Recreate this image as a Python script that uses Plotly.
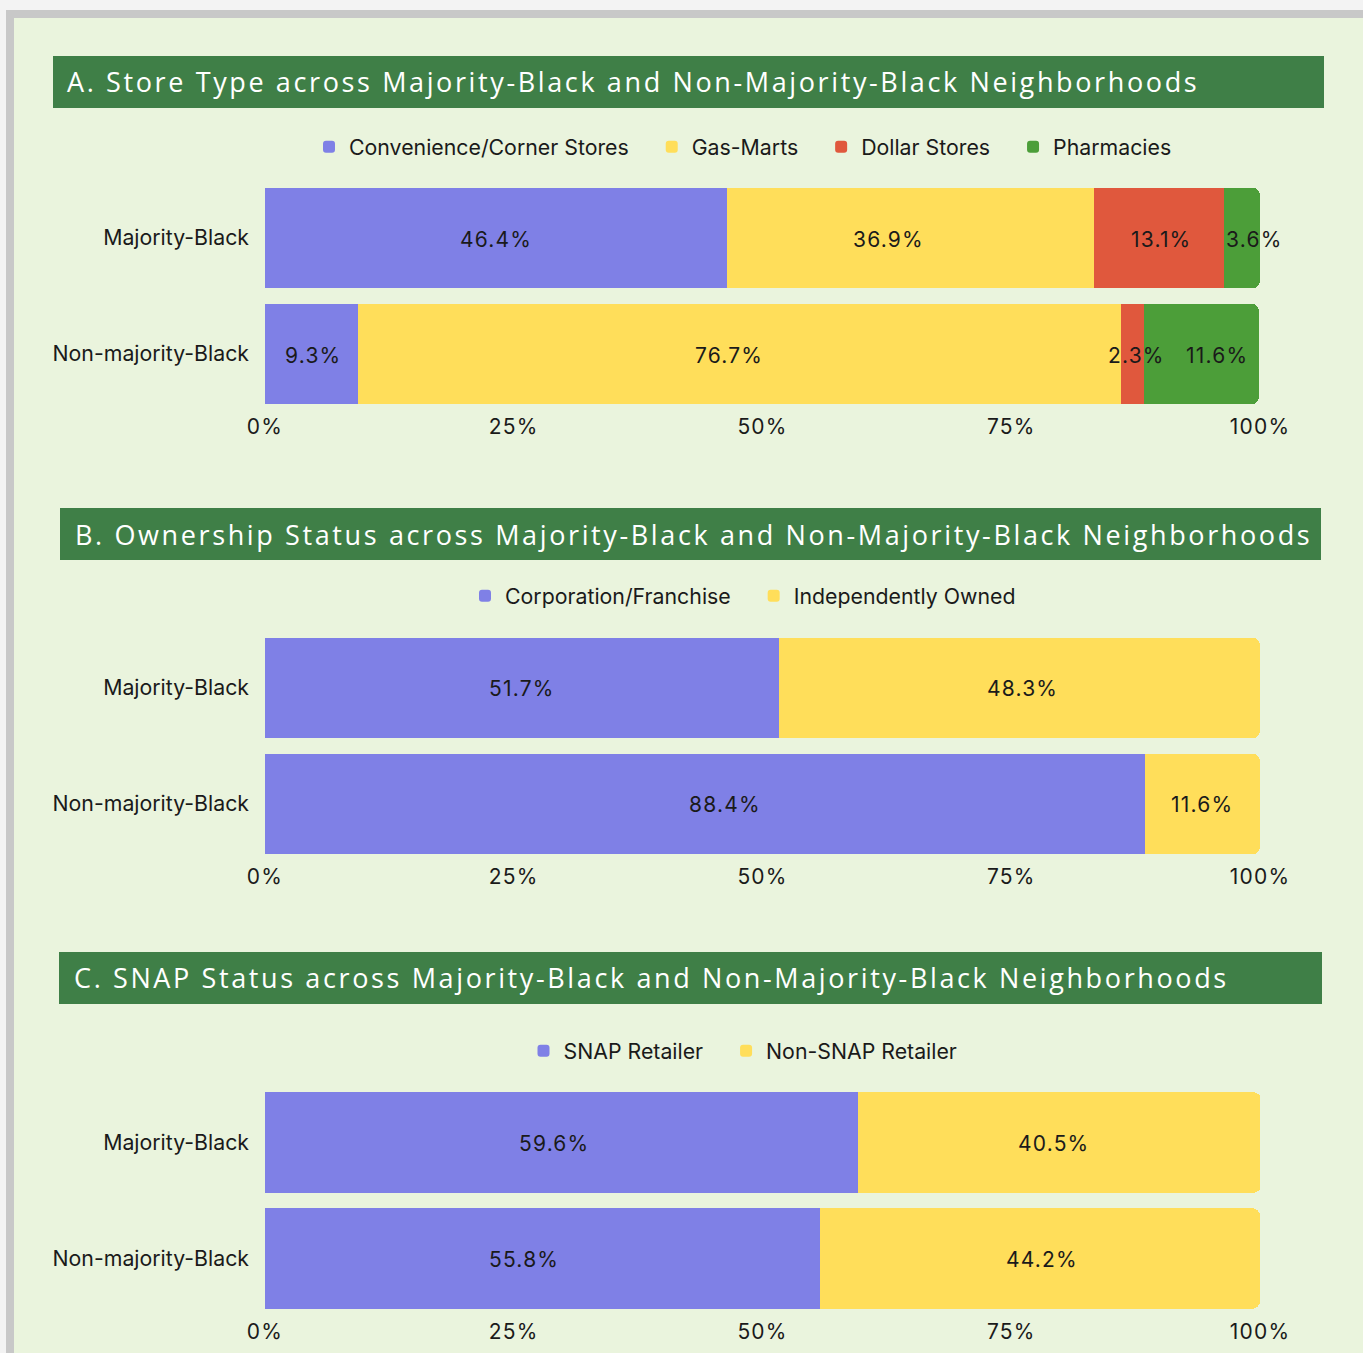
import plotly.graph_objects as go

W, H = 1363, 1353

neighborhoods = ["Majority-Black", "Non-majority-Black"]

# Panel A: store type
a_title = "A. Store Type across Majority-Black and Non-Majority-Black Neighborhoods"
a_series = ["Convenience/Corner Stores", "Gas-Marts", "Dollar Stores", "Pharmacies"]
a_conv = [46.4, 9.3]
a_gas = [36.9, 76.7]
a_dollar = [13.1, 2.3]
a_pharm = [3.6, 11.6]

# Panel B: ownership
b_title = "B. Ownership Status across Majority-Black and Non-Majority-Black Neighborhoods"
b_series = ["Corporation/Franchise", "Independently Owned"]
b_corp = [51.7, 88.4]
b_indep = [48.3, 11.6]

# Panel C: SNAP
c_title = "C. SNAP Status across Majority-Black and Non-Majority-Black Neighborhoods"
c_series = ["SNAP Retailer", "Non-SNAP Retailer"]
c_snap = [59.6, 55.8]
c_nonsnap = [40.5, 44.2]

tick_vals = [0, 25, 50, 75, 100]
tick_text = ["0%", "25%", "50%", "75%", "100%"]

PURPLE = "#7F80E6"
YELLOW = "#FFDE5A"
RED = "#E0583D"
GREEN = "#4C9E39"
TITLE_GREEN = "#3F7F47"
PANEL_BG = "#EAF4DD"
TXT = "#1a1a1a"
FONT = "Inter, Liberation Sans, Arial, sans-serif"
TITLE_FONT = "Open Sans, Noto Sans, sans-serif"
GAP = "\u00a0\u00a0\u00a0"  # extra spacing between legend entries


def py(px):
    return 1 - px / H


def pxx(px):
    return px / W


def spaced(text, ls):
    return f'<span style="letter-spacing:{ls}px">{text}</span>'


panels = [
    dict(title=a_title, names=a_series, values=[a_conv, a_gas, a_dollar, a_pharm],
         colors=[PURPLE, YELLOW, RED, GREEN], bar=(53, 1324, 56, 108), text_x=65,
         plot=(180, 412), legend_y=147,
         shifts=[[0, -22, 2, 12], [2, -10, 4, 16]]),
    dict(title=b_title, names=b_series, values=[b_corp, b_indep],
         colors=[PURPLE, YELLOW], bar=(60, 1321, 508, 560), text_x=73,
         plot=(630, 862), legend_y=596,
         shifts=[[0, 3], [20, 0]]),
    dict(title=c_title, names=c_series, values=[c_snap, c_nonsnap],
         colors=[PURPLE, YELLOW], bar=(59, 1322, 952, 1004), text_x=72,
         plot=(1084.5, 1316.5), legend_y=1051,
         shifts=[[-8, -6], [-19, 2]]),
]

fig = go.Figure()
shapes = []
annotations = []

# outer grey border and inner panel
shapes.append(dict(type="rect", xref="paper", yref="paper", x0=pxx(6), x1=1,
                   y0=0, y1=py(10), fillcolor="#C8C8C8", line=dict(width=0), layer="below"))
shapes.append(dict(type="rect", xref="paper", yref="paper", x0=pxx(14), x1=1,
                   y0=0, y1=py(18), fillcolor=PANEL_BG, line=dict(width=0), layer="below"))

legend_names = ["legend", "legend2", "legend3"]
layout_extra = {}

for i, p in enumerate(panels):
    ax = "" if i == 0 else str(i + 1)
    lg = legend_names[i]
    n = len(p["names"])
    for k, (name, vals, col) in enumerate(zip(p["names"], p["values"], p["colors"])):
        label = name + (GAP if k < n - 1 else "")
        fig.add_trace(go.Bar(
            y=neighborhoods, x=vals, name=label, orientation="h",
            marker=dict(color=col, line=dict(width=0)),
            xaxis="x" + ax, yaxis="y" + ax, legend=lg,
            hoverinfo="skip",
        ))
    # value labels in segments
    for r, cat in enumerate(neighborhoods):
        cum = 0
        for k, vals in enumerate(p["values"]):
            v = vals[r]
            annotations.append(dict(
                x=cum + v / 2, y=cat, xref="x" + ax, yref="y" + ax,
                xshift=p["shifts"][r][k], yshift=-1,
                text=spaced(f"{v}%", 1.2), showarrow=False,
                font=dict(family=FONT, size=21, color=TXT),
            ))
            cum += v
    # title bar
    x0, x1, y0, y1 = p["bar"]
    shapes.append(dict(type="rect", xref="paper", yref="paper", x0=pxx(x0), x1=pxx(x1),
                       y0=py(y1), y1=py(y0), fillcolor=TITLE_GREEN, line=dict(width=0),
                       layer="below"))
    annotations.append(dict(
        x=pxx(p["text_x"]), y=py((y0 + y1) / 2), xref="paper", yref="paper",
        xanchor="left", yanchor="middle", text=spaced(p["title"], 2.62), showarrow=False,
        font=dict(family=TITLE_FONT, size=27, color="white"),
    ))
    top, bot = p["plot"]
    layout_extra["xaxis" + ax] = dict(
        domain=[pxx(265), pxx(1260)], range=[0, 100], anchor="y" + ax,
        tickvals=tick_vals, ticktext=[spaced(t, 1.2) for t in tick_text],
        showgrid=False, zeroline=False,
        showline=False, ticks="", tickfont=dict(family=FONT, size=21, color=TXT),
        fixedrange=True, automargin=False,
    )
    layout_extra["yaxis" + ax] = dict(
        domain=[py(bot), py(top)], range=[1.5, -0.5], anchor="x" + ax,
        showgrid=False, zeroline=False, showline=False, ticks="",
        tickfont=dict(family=FONT, size=21.3, color=TXT), ticklabelstandoff=15,
        fixedrange=True, automargin=False,
    )
    layout_extra[lg] = dict(
        orientation="h", x=pxx(743), xanchor="center", y=py(p["legend_y"]),
        yanchor="middle", bgcolor="rgba(0,0,0,0)",
        font=dict(family=FONT, size=21.3, color=TXT), traceorder="normal",
    )

fig.update_layout(
    width=W, height=H, autosize=False, margin=dict(l=0, r=0, t=0, b=0),
    paper_bgcolor="#F3F3F3", plot_bgcolor="rgba(0,0,0,0)",
    barmode="stack", bargap=0.13, barcornerradius=8,
    shapes=shapes, annotations=annotations, showlegend=True,
    **layout_extra,
)

fig.write_html(
    "out.html",
    config={"displayModeBar": False, "responsive": False},
    post_script="document.body.style.margin='0';document.body.style.overflow='hidden';"
                "document.documentElement.style.overflow='hidden';",
)
